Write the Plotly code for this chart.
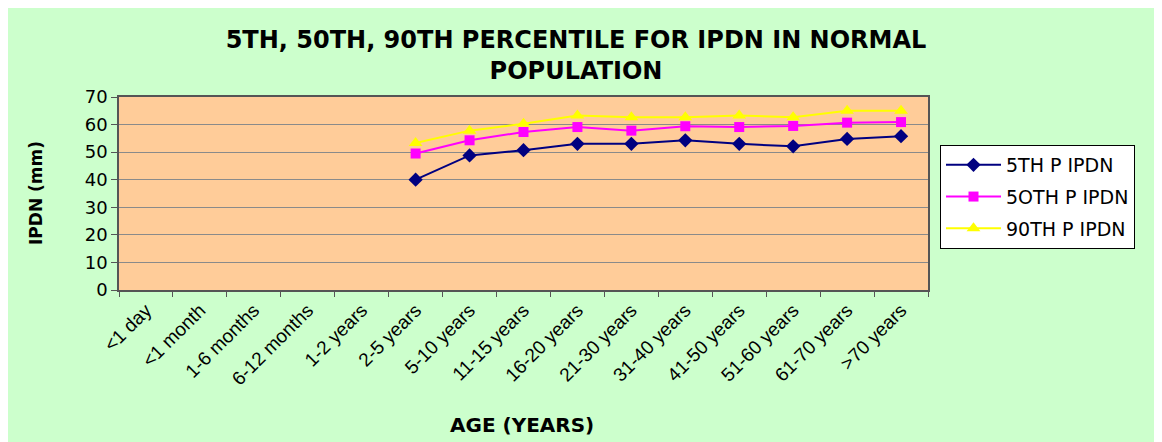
import plotly.graph_objects as go

categories = ["<1 day", "<1 month", "1-6 months", "6-12 months", "1-2 years", "2-5 years",
              "5-10 years", "11-15 years", "16-20 years", "21-30 years", "31-40 years",
              "41-50 years", "51-60 years", "61-70 years", ">70 years"]
data_categories = categories[5:]
p5 = [40.0, 48.8, 50.7, 53.0, 53.0, 54.3, 53.0, 52.1, 54.8, 55.8]
p50 = [49.5, 54.3, 57.3, 59.1, 57.8, 59.4, 59.1, 59.5, 60.7, 60.9]
p90 = [53.3, 57.8, 60.3, 63.3, 62.7, 62.7, 63.3, 62.7, 65.0, 65.0]
series_names = ["5TH P IPDN", "5OTH P IPDN", "90TH P IPDN"]
tick_text = [c.replace("<", "&lt;").replace(">", "&gt;") for c in categories]

FONT = "Liberation Sans, Arial, sans-serif"
WIDE = "DejaVu Sans, Verdana, sans-serif"

# page body has an 8px margin; reference coordinates are screen coordinates
OFF = 8
PL, PR, PT, PB = 119, 928, 97, 290  # plot area in screen px
W, H = 1162, 442

fig = go.Figure()
fig.add_trace(go.Scatter(x=data_categories, y=p5, name=series_names[0], mode="lines+markers",
                         line=dict(color="#000080", width=2),
                         marker=dict(symbol="diamond", size=11, color="#000080"),
                         legendgroup="a"))
fig.add_trace(go.Scatter(x=data_categories, y=p50, name=series_names[1], mode="lines+markers",
                         line=dict(color="#FF00FF", width=2),
                         marker=dict(symbol="square", size=10, color="#FF00FF"),
                         legendgroup="b"))
fig.add_trace(go.Scatter(x=data_categories, y=p90, name=series_names[2], mode="lines+markers",
                         line=dict(color="#FFFF00", width=2),
                         marker=dict(symbol="triangle-up", size=12, color="#FFFF00"),
                         legendgroup="c"))

plot_w = PR - PL
plot_h = PB - PT


def px_x(x):
    return (x - PL) / plot_w


def px_y(y):
    return (PB - y) / plot_h


fig.update_layout(
    width=W, height=H,
    margin=dict(l=PL - OFF, r=W - (PR - OFF), t=PT - OFF, b=H - (PB - OFF), autoexpand=False),
    paper_bgcolor="#CCFFCC",
    plot_bgcolor="#FFCC99",
    font=dict(family=FONT, color="black"),
    title=dict(text="<b>5TH, 50TH, 90TH PERCENTILE FOR IPDN IN NORMAL<br>POPULATION</b>",
               x=(576 - OFF) / W, xref="container", xanchor="center",
               y=1 - 40 / H, yref="container", yanchor="top",
               font=dict(size=24, family=WIDE, color="black")),
    showlegend=True,
    legend=dict(x=px_x(940), y=px_y(145), xanchor="left", yanchor="top",
                bgcolor="white", bordercolor="black", borderwidth=1,
                font=dict(size=19, family=WIDE), itemwidth=55,
                traceorder="grouped", tracegroupgap=4),
    xaxis=dict(type="category", categoryorder="array", categoryarray=categories,
               tickmode="array", tickvals=categories, ticktext=tick_text,
               range=[-0.5, 14.5], tickangle=-45, tickson="boundaries",
               ticks="outside", ticklen=5, tickcolor="#555555",
               showline=True, linecolor="#555555", linewidth=1.5, mirror=True,
               showgrid=False, tickfont=dict(size=19, family=FONT)),
    yaxis=dict(range=[0, 70], dtick=10, ticks="outside", ticklen=6, tickcolor="#555555",
               showline=True, linecolor="#555555", linewidth=1.5, mirror=True,
               showgrid=True, gridcolor="#8a8a8a", gridwidth=1, zeroline=False,
               tickfont=dict(size=18, family=WIDE)),
    annotations=[
        dict(text="<b>IPDN (mm)</b>", x=px_x(36), xref="paper", y=px_y(193), yref="paper",
             xanchor="center", yanchor="middle",
             textangle=-90, showarrow=False, font=dict(size=17, family=WIDE)),
        dict(text="<b>AGE (YEARS)</b>", x=px_x(522), xref="paper", y=px_y(425), yref="paper",
             xanchor="center", yanchor="middle",
             showarrow=False, font=dict(size=20, family=WIDE)),
    ],
)

fig.write_html("out.html")
